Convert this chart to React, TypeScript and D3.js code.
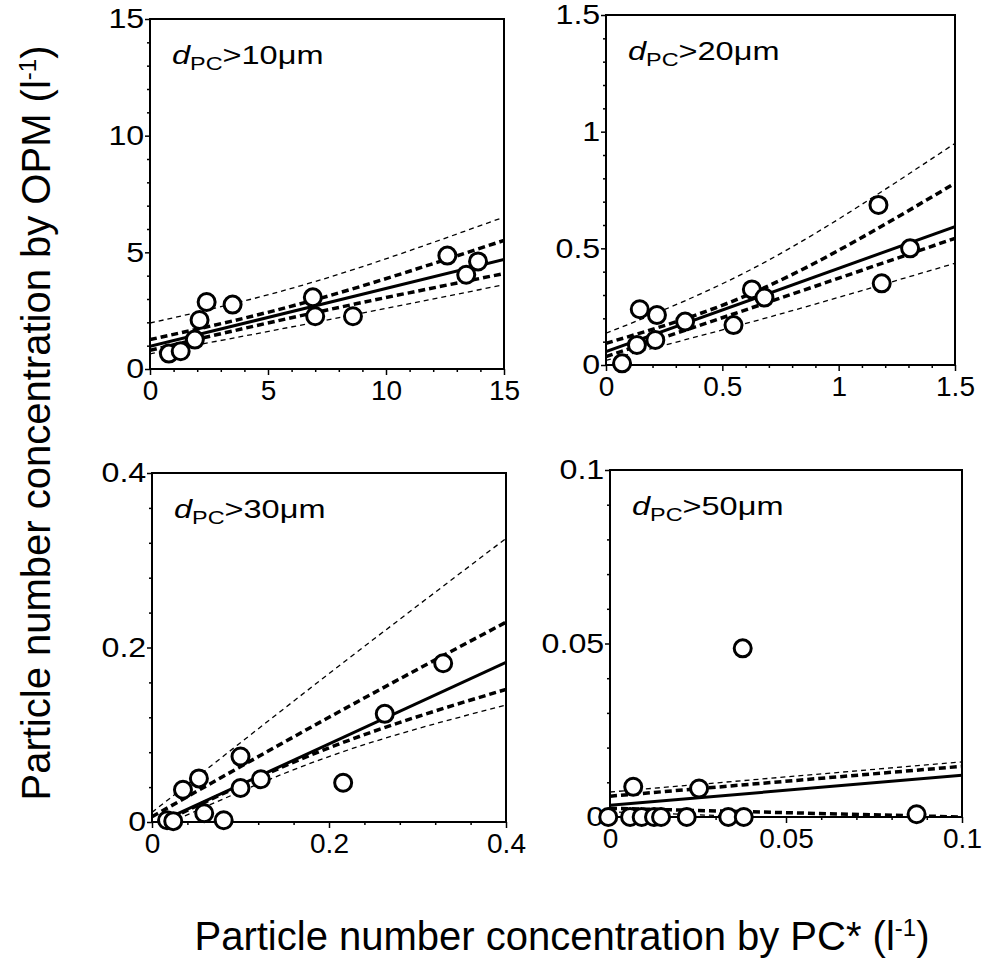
import React, { useEffect, useRef } from "react";
import * as d3 from "d3";

const width = 983;
const height = 961;

// dPC > 10 µm
const pc10 = [0.8, 1.3, 1.9, 2.1, 2.4, 3.5, 6.9, 7.0, 8.6, 12.6, 13.4, 13.9];
const opm10 = [0.66, 0.76, 1.26, 2.1, 2.87, 2.76, 3.07, 2.26, 2.26, 4.86, 4.04, 4.61];
const fit10 = [[0, 0.97], [15, 4.69]];
const confHi10 = [[0, 1.26], [7, 2.97], [15, 5.51]];
const confLo10 = [[0, 0.8], [7, 2.42], [15, 4.09]];
const predHi10 = [[0, 1.97], [7, 3.75], [15, 6.51]];
const predLo10 = [[0, 0.65], [7, 2.0], [15, 3.61]];
const ticks10 = [0, 5, 10, 15];

// dPC > 20 µm
const pc20 = [0.069, 0.133, 0.145, 0.212, 0.219, 0.34, 0.548, 0.627, 0.681, 1.171, 1.185, 1.307];
const opm20 = [0.007, 0.086, 0.239, 0.107, 0.214, 0.186, 0.171, 0.324, 0.289, 0.686, 0.35, 0.5];
const fit20 = [[0, 0.057], [1.5, 0.593]];
const confHi20 = [[0, 0.093], [0.7, 0.34], [1.5, 0.779]];
const confLo20 = [[0, 0.036], [0.7, 0.27], [1.5, 0.543]];
const predHi20 = [[0, 0.136], [0.7, 0.45], [1.5, 0.95]];
const predLo20 = [[0, 0.02], [0.7, 0.205], [1.5, 0.436]];
const ticks20 = [0, 0.5, 1, 1.5];

// dPC > 30 µm
const pc30 = [0.017, 0.024, 0.035, 0.053, 0.059, 0.081, 0.1, 0.1, 0.123, 0.216, 0.263, 0.329];
const opm30 = [0.002, 0.001, 0.037, 0.05, 0.01, 0.002, 0.039, 0.075, 0.049, 0.045, 0.124, 0.182];
const fit30 = [[0, -0.004], [0.4, 0.183]];
const confHi30 = [[0, 0.006], [0.2, 0.12], [0.4, 0.229]];
const confLo30 = [[0, -0.006], [0.2, 0.085], [0.4, 0.152]];
const predHi30 = [[0, 0.011], [0.2, 0.17], [0.4, 0.325]];
const predLo30 = [[0, -0.01], [0.2, 0.075], [0.4, 0.134]];
const ticks30 = [0, 0.2, 0.4];

// dPC > 50 µm
const pc50 = [-0.0005, 0.0057, 0.0066, 0.009, 0.0125, 0.0145, 0.0218, 0.0253, 0.0336, 0.0377, 0.038, 0.0871];
const opm50 = [0, 0, 0.0087, 0, 0, 0, 0, 0.0082, 0, 0.0486, 0, 0.0008];
const fit50 = [[0, 0.0034], [0.1, 0.012]];
const confHi50 = [[0, 0.006], [0.1, 0.0146]];
const confLo50 = [[0, 0.0025], [0.1, 0.0]];
const predHi50 = [[0, 0.0072], [0.1, 0.0159]];
const predLo50 = [[0, 0.0015], [0.1, -0.002]];
const ticks50 = [0, 0.05, 0.1];

const panels = [
  { label: "10", x: pc10, y: opm10, fit: fit10, conf: [confHi10, confLo10], pred: [predHi10, predLo10], ticks: ticks10, box: [150, 19, 504, 369] },
  { label: "20", x: pc20, y: opm20, fit: fit20, conf: [confHi20, confLo20], pred: [predHi20, predLo20], ticks: ticks20, box: [606, 15, 955, 365] },
  { label: "30", x: pc30, y: opm30, fit: fit30, conf: [confHi30, confLo30], pred: [predHi30, predLo30], ticks: ticks30, box: [152, 473, 506, 822] },
  { label: "50", x: pc50, y: opm50, fit: fit50, conf: [confHi50, confLo50], pred: [predHi50, predLo50], ticks: ticks50, box: [610, 470, 962, 817] },
];

const font = "'Liberation Sans', Arial, sans-serif";

export default function App() {
  const svgRef = useRef(null);

  useEffect(() => {
    const svg = d3.select(svgRef.current);
    svg.selectAll("*").remove();

    panels.forEach((p, i) => {
      const [x0, y0, x1, y1] = p.box;
      const dom = [p.ticks[0], p.ticks[p.ticks.length - 1]];
      const x = d3.scaleLinear().domain(dom).range([x0, x1]);
      const y = d3.scaleLinear().domain(dom).range([y1, y0]);

      // 4 minor ticks between majors
      const minor = [];
      for (let k = 0; k < p.ticks.length - 1; k++) {
        const step = (p.ticks[k + 1] - p.ticks[k]) / 5;
        for (let m = 1; m < 5; m++) minor.push(p.ticks[k] + step * m);
      }

      const g = svg.append("g");

      g.append("clipPath")
        .attr("id", `clip${i}`)
        .append("rect")
        .attr("x", x0)
        .attr("y", y0)
        .attr("width", x1 - x0)
        .attr("height", y1 - y0);

      // axes
      const fmt = (d) => String(d);
      const yAxis = g.append("g")
        .attr("transform", `translate(${x0},0)`)
        .call(d3.axisLeft(y).tickValues(p.ticks).tickSize(5).tickPadding(0).tickFormat(fmt));
      g.append("g")
        .attr("transform", `translate(${x0},0)`)
        .call(d3.axisLeft(y).tickValues(minor).tickSize(3).tickFormat(""));
      const xAxis = g.append("g")
        .attr("transform", `translate(0,${y1})`)
        .call(d3.axisBottom(x).tickValues(p.ticks).tickSize(6).tickPadding(5).tickFormat(fmt));
      g.append("g")
        .attr("transform", `translate(0,${y1})`)
        .call(d3.axisBottom(x).tickValues(minor).tickSize(3).tickFormat(""));

      g.selectAll(".domain").remove();
      g.selectAll(".tick line").attr("stroke", "#000").attr("stroke-width", 1.5);
      [yAxis, xAxis].forEach((a) =>
        a.selectAll("text")
          .attr("fill", "#000")
          .style("font-family", font)
          .style("font-size", "28px")
      );
      // the y labels are printed a bit wider
      yAxis.selectAll("text").attr("transform", "scale(1.15,1)");

      // frame
      g.append("rect")
        .attr("x", x0)
        .attr("y", y0)
        .attr("width", x1 - x0)
        .attr("height", y1 - y0)
        .attr("fill", "none")
        .attr("stroke", "#000")
        .attr("stroke-width", 2);

      const line = d3.line()
        .x((d) => x(d[0]))
        .y((d) => y(d[1]))
        .curve(d3.curveNatural);

      const lines = g.append("g").attr("clip-path", `url(#clip${i})`);
      p.pred.forEach((band) =>
        lines.append("path")
          .attr("d", line(band))
          .attr("fill", "none")
          .attr("stroke", "#000")
          .attr("stroke-width", 1.3)
          .attr("stroke-dasharray", "5,4")
      );
      p.conf.forEach((band) =>
        lines.append("path")
          .attr("d", line(band))
          .attr("fill", "none")
          .attr("stroke", "#000")
          .attr("stroke-width", 3.5)
          .attr("stroke-dasharray", "7,4")
      );
      lines.append("path")
        .attr("d", line(p.fit))
        .attr("fill", "none")
        .attr("stroke", "#000")
        .attr("stroke-width", 3);

      // points
      g.append("g")
        .selectAll("circle")
        .data(p.x.map((v, k) => [v, p.y[k]]))
        .join("circle")
        .attr("cx", (d) => x(d[0]))
        .attr("cy", (d) => y(d[1]))
        .attr("r", 8.5)
        .attr("fill", "#fff")
        .attr("stroke", "#000")
        .attr("stroke-width", 3);

      // panel label
      const t = g.append("g")
        .attr("transform", `translate(${x0 + 22},${y0 + 45}) scale(1.3,1)`)
        .append("text")
        .style("font-family", font)
        .style("font-size", "25px")
        .attr("fill", "#000");
      t.append("tspan").attr("font-style", "italic").text("d");
      t.append("tspan").attr("dy", 6).style("font-size", "18px").text("PC");
      t.append("tspan").attr("dy", -6).text(`>${p.label}μm`);
    });

    // axis titles
    const yt = svg.append("text")
      .attr("transform", "translate(50,423) rotate(-90)")
      .attr("text-anchor", "middle")
      .style("font-family", font)
      .style("font-size", "40px")
      .attr("fill", "#000");
    yt.append("tspan").text("Particle number concentration by OPM (l");
    yt.append("tspan").attr("dy", -14).style("font-size", "24px").text("-1");
    yt.append("tspan").attr("dy", 14).text(")");

    const xt = svg.append("text")
      .attr("x", 562)
      .attr("y", 950)
      .attr("text-anchor", "middle")
      .style("font-family", font)
      .style("font-size", "40px")
      .attr("fill", "#000");
    xt.append("tspan").text("Particle number concentration by PC* (l");
    xt.append("tspan").attr("dy", -14).style("font-size", "24px").text("-1");
    xt.append("tspan").attr("dy", 14).text(")");
  }, []);

  return (
    <svg
      ref={svgRef}
      width={width}
      height={height}
      style={{ position: "absolute", left: 0, top: 0, background: "#fff" }}
    />
  );
}
